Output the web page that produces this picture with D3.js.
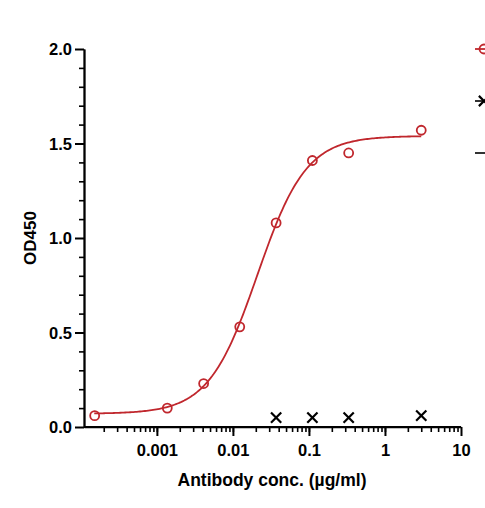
<!DOCTYPE html>
<html><head><meta charset="utf-8">
<script src="https://cdn.jsdelivr.net/npm/d3@7"></script>
<style>body{margin:0;background:#fff}text{font-family:Arial,"Liberation Sans",sans-serif;font-weight:bold}</style>
</head><body><svg id="c" width="485" height="508"></svg>
<script>
// measured points
const conc = [0.000152, 0.00137, 0.00412, 0.0123, 0.037, 0.111, 0.333, 3];
const od = [0.06, 0.10, 0.23, 0.53, 1.08, 1.41, 1.45, 1.57];
const ctrlConc = [0.037, 0.111, 0.333, 3];
const ctrlOd = [0.05, 0.05, 0.05, 0.06];
// 4PL fit: bottom, top, ec50, hill
const fit = {bottom: 0.07, top: 1.54, ec50: 0.021, hill: 1.35};
const xTicks = [0.001, 0.01, 0.1, 1, 10];
const yTicks = [0, 0.5, 1, 1.5, 2];

const red = "#c0272d";
const svg = d3.select("#c");
const x = d3.scaleLog().domain([1.1e-4, 10]).range([84, 461]);
const y = d3.scaleLinear().domain([0, 2]).range([427, 49]);

// x axis with minor ticks
const minor = [];
for (let e = -4; e < 1; e++) for (let k = 1; k < 10; k++) { const v = k * Math.pow(10, e); if (v >= 1.1e-4 && v <= 10) minor.push(v); }
svg.append("g").attr("transform", "translate(0,427)")
	.call(d3.axisBottom(x).tickValues(minor).tickFormat("").tickSize(5).tickSizeOuter(0))
	.call(g => g.selectAll("line,path").attr("stroke", "#000").attr("stroke-width", 1.6));
svg.append("g").attr("transform", "translate(0,427)")
	.call(d3.axisBottom(x).tickValues(xTicks).tickFormat(d => d >= 1 ? d : d3.format("")(d)).tickSize(9).tickSizeOuter(0))
	.call(g => g.select("path").attr("d", "M84,0H461").attr("stroke-width", 2))
	.call(g => g.selectAll("line").attr("stroke-width", 2))
	.call(g => g.selectAll("text").attr("font-size", 16.5).attr("fill", "#000").attr("dy", "1.05em"));

// y axis
const yMinor = d3.range(0, 2.01, 0.1);
svg.append("g").attr("transform", "translate(84,0)")
	.call(d3.axisLeft(y).tickValues(yMinor.filter((d, i) => i % 5)).tickFormat("").tickSize(5).tickSizeOuter(0))
	.call(g => g.selectAll("line,path").attr("stroke-width", 1.6));
svg.append("g").attr("transform", "translate(84,0)")
	.call(d3.axisLeft(y).tickValues(yTicks).tickFormat(d3.format(".1f")).tickSize(9).tickSizeOuter(0))
	.call(g => g.select("path").attr("stroke-width", 2))
	.call(g => g.selectAll("line").attr("stroke-width", 2))
	.call(g => g.selectAll("text").attr("font-size", 16.5).attr("fill", "#000").attr("dy", "0.35em"));

svg.append("text").attr("x", 272).attr("y", 486).attr("text-anchor", "middle").attr("font-size", 17.5).text("Antibody conc. (µg/ml)");
svg.append("text").attr("transform", "translate(36,238) rotate(-90)").attr("text-anchor", "middle").attr("font-size", 17).text("OD450");

// fit curve
const f = c => fit.bottom + (fit.top - fit.bottom) / (1 + Math.pow(fit.ec50 / c, fit.hill));
const xs = d3.range(0, 201).map(i => Math.pow(10, Math.log10(1.5e-4) + i / 200 * (Math.log10(3) - Math.log10(1.5e-4))));
svg.append("path").datum(xs).attr("fill", "none").attr("stroke", red).attr("stroke-width", 1.8)
	.attr("d", d3.line().x(d => x(d)).y(d => y(f(d))));

svg.append("g").selectAll("circle").data(conc).join("circle")
	.attr("cx", d => x(d)).attr("cy", (d, i) => y(od[i])).attr("r", 4.5)
	.attr("fill", "none").attr("stroke", red).attr("stroke-width", 1.8);

const cross = d3.symbol().type(d3.symbolX).size(70);
svg.append("g").selectAll("path").data(ctrlConc).join("path")
	.attr("transform", (d, i) => `translate(${x(d)},${y(ctrlOd[i])})`)
	.attr("d", cross).attr("stroke", "#000").attr("stroke-width", 2.2);

// legend (cut off at right edge)
const lg = svg.append("g");
lg.append("line").attr("x1", 475).attr("x2", 490).attr("y1", 49).attr("y2", 49).attr("stroke", red).attr("stroke-width", 1.8);
lg.append("circle").attr("cx", 484).attr("cy", 49).attr("r", 4.5).attr("fill", "none").attr("stroke", red).attr("stroke-width", 1.8);
lg.append("line").attr("x1", 475).attr("x2", 490).attr("y1", 101).attr("y2", 101).attr("stroke", "#000").attr("stroke-width", 1.6);
lg.append("path").attr("transform", "translate(484,101)").attr("d", cross).attr("stroke", "#000").attr("stroke-width", 2.2);
lg.append("line").attr("x1", 475).attr("x2", 490).attr("y1", 153).attr("y2", 153).attr("stroke", "#000").attr("stroke-width", 1.6);
</script></body></html>
